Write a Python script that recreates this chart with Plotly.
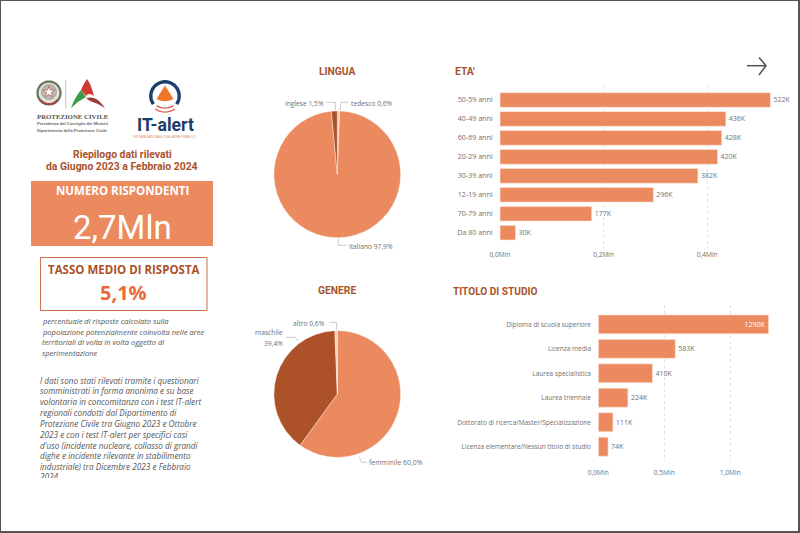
import numpy as np
import plotly.graph_objects as go

W, H = 800, 533

# ---------- data ----------
lingua_labels = ["tedesco", "italiano", "inglese"]
lingua_values = [0.6, 97.9, 1.5]
genere_labels = ["femminile", "maschile", "altro"]
genere_values = [60.0, 39.4, 0.6]
eta_labels = ["50-59 anni", "40-49 anni", "60-69 anni", "20-29 anni",
              "30-39 anni", "12-19 anni", "70-79 anni", "Da 80 anni"]
eta_values = [522, 436, 428, 420, 382, 296, 177, 30]
eta_ticks = [0, 200, 400]
eta_ticktext = ["0,0Mln", "0,2Mln", "0,4Mln"]
studio_labels = ["Diploma di scuola superiore", "Licenza media", "Laurea specialistica",
                 "Laurea triennale", "Dottorato di ricerca/Master/Specializzazione",
                 "Licenza elementare/Nessun titolo di studio"]
studio_values = [1290, 583, 410, 224, 111, 74]
studio_ticks = [0, 500, 1000]
studio_ticktext = ["0,0Mln", "0,5Mln", "1,0Mln"]

# ---------- styling ----------
ORANGE = "#EB8A5F"
DARK = "#AD5128"
LIGHT = "#F6CDB8"
TITLE = "#A9532B"
GREY = "#707070"
SANS = "Open Sans"
HEAD = "Roboto"


def px(x):
    return x / W


def py(y):
    return 1 - y / H


annotations = []
shapes = []
PAGE = dict(xref="x4", yref="y4")   # full-page overlay axes, measured in pixels


def note(x, y, text, size, color=GREY, anchor="left", family=SANS, bold=False, italic=False):
    annotations.append(dict(
        x=x - 1 if anchor == "left" else x, y=y, text=text, showarrow=False, xanchor=anchor,
        yanchor="middle", borderpad=0,
        font=dict(family=family, size=size, color=color,
                  weight="bold" if bold else "normal",
                  style="italic" if italic else "normal"), **PAGE))


def poly(points, color=None, fill=None, width=1, close=False):
    d = "M " + " L ".join(f"{a:.3f},{b:.3f}" for a, b in points) + (" Z" if close else "")
    shapes.append(dict(type="path", path=d,
                       line=dict(color=color or "rgba(0,0,0,0)", width=width),
                       fillcolor=fill or "rgba(0,0,0,0)", **PAGE))


def curve(spec, fill):
    parts = []
    for item in spec:
        cmd, nums = item[0], item[1:]
        pairs = [f"{nums[i]},{nums[i + 1]}" for i in range(0, len(nums), 2)]
        parts.append(cmd + " " + " ".join(pairs))
    shapes.append(dict(type="path", path=" ".join(parts) + " Z",
                       line=dict(width=0), fillcolor=fill, **PAGE))


def rect(x0, y0, x1, y1, fill=None, line=None, width=1):
    shapes.append(dict(type="rect", x0=x0, x1=x1, y0=y0, y1=y1,
                       fillcolor=fill or "rgba(0,0,0,0)",
                       line=dict(color=line or "rgba(0,0,0,0)", width=width if line else 0), **PAGE))


def arc(cx, cy, r, a0, a1, n=48):
    """angles in degrees clockwise from 12 o'clock"""
    t = np.radians(np.linspace(a0, a1, n))
    return list(zip(cx + r * np.sin(t), cy - r * np.cos(t)))


def circle(cx, cy, r, fill=None, line=None, width=1):
    poly(arc(cx, cy, r, 0, 360), color=line, fill=fill, width=width, close=True)


def pct(v):
    return f"{v:.1f}%".replace(".", ",")


# ---------- frame ----------
rect(0, 0, W, 1, fill="#555555")
rect(0, 0, 1, H, fill="#555555")
rect(W - 2, 0, W, H, fill="#555555")
rect(0, H - 2, W, H, fill="#555555")

# ---------- logos ----------
circle(49, 93, 11.5, fill="#E4E4DC", line="#66735A", width=2.2)
circle(49, 92, 7.5, fill="#B9B9B0", line="#8E8E82", width=0.6)
star = [(49 + (6 if i % 2 == 0 else 2.4) * np.sin(np.pi * i / 5),
         92 - (6 if i % 2 == 0 else 2.4) * np.cos(np.pi * i / 5)) for i in range(10)]
poly(star, color="#B33A3A", fill="#FFFFFF", width=0.6, close=True)
poly(arc(49, 93, 11, 130, 230, n=12), color="#A8453F", width=2)
poly([(65.7, 80), (65.7, 109)], color="#C4C4C4", width=1)
curve([("M", 71, 108), ("Q", 75, 97, 81, 90), ("L", 86, 97), ("Q", 78, 101, 71, 108)], "#3C9A48")
curve([("M", 81, 90), ("Q", 84, 83, 87, 79), ("Q", 91, 84, 94, 96), ("Q", 89, 92, 86, 96)], "#CE3A31")
curve([("M", 86, 98), ("Q", 94, 96, 99, 101), ("Q", 103, 105, 105, 108), ("Q", 97, 103, 90, 101)], "#A03A3A")
note(37, 116, "PROTEZIONE CIVILE", 6.8, "#555555", family="Liberation Serif", bold=True)
note(37, 123.5, "Presidenza del Consiglio dei Ministri", 4.1, "#666666", family="Liberation Sans", bold=True)
note(37, 130, "Dipartimento della Protezione Civile", 4.1, "#666666", family="Liberation Sans", bold=True)

poly(arc(165, 96, 14.2, -125, 125), color="#1F3F6E", width=3.4)
curve([("M", 165, 85.5), ("L", 173.5, 99), ("Q", 165, 103.5, 156.5, 99)], "#F0762B")
poly(arc(165, 91, 17, 150, 210, n=14), color="#D9473A", width=1.2)
poly(arc(165, 95, 17, 145, 215, n=14), color="#D9473A", width=1.2)
note(165, 125, "IT-alert", 17.6, "#1E3C68", anchor="center", family="Roboto", bold=True)
note(165, 136.5, "SISTEMA NAZIONALE DI ALLARME PUBBLICO", 2.9, "#D98A62", anchor="center",
     family="Liberation Sans")

# ---------- left column ----------
note(122, 154.5, "Riepilogo dati rilevati", 10.4, TITLE, anchor="center", family=HEAD, bold=True)
note(122, 166, "da Giugno 2023 a Febbraio 2024", 10.4, TITLE, anchor="center", family=HEAD, bold=True)
rect(31, 181, 213, 246, fill=ORANGE)
note(122, 190, "NUMERO RISPONDENTI", 11.5, "#FFFFFF", anchor="center", bold=True)
note(122, 227, "2,7Mln", 33, "#FFFFFF", anchor="center", family=HEAD)
rect(40.5, 257.5, 207, 310.5, line="#C8704A", width=1)
note(123.5, 269, "TASSO MEDIO DI RISPOSTA", 11.5, DARK, anchor="center", bold=True)
note(123.5, 292, "5,1%", 20, "#E8693A", anchor="center", bold=True)

note_lines = ["percentuale di risposte calcolato sulla",
              "popolazione potenzialmente coinvolta nelle aree",
              "territoriali di volta in volta oggetto di",
              "sperimentazione"]
for i, line in enumerate(note_lines):
    note(42, 320.7 + i * 10.8, line, 7.55, "#555555", italic=True)

body_lines = ["I dati sono stati rilevati tramite i questionari",
              "somministrati in forma anonima e su base",
              "volontaria in concomitanza con i test IT-alert",
              "regionali condotti dal Dipartimento di",
              "Protezione Civile tra Giugno 2023 e Ottobre",
              "2023 e con i test IT-alert per specifici casi",
              "d'uso (incidente nucleare, collasso di grandi",
              "dighe e incidente rilevante in stabilimento",
              "industriale) tra Dicembre 2023 e Febbraio"]
for i, line in enumerate(body_lines):
    note(40, 380 + i * 10.85, line, 8.2, "#555555", italic=True)

# ---------- section titles ----------
note(337, 71.7, "LINGUA", 10.3, TITLE, anchor="center", family=HEAD, bold=True)
note(337, 290.7, "GENERE", 10.3, TITLE, anchor="center", family=HEAD, bold=True)
note(455, 71.7, "ETA'", 10.3, TITLE, family=HEAD, bold=True)
note(453, 291, "TITOLO DI STUDIO", 10.1, TITLE, family=HEAD, bold=True)

# ---------- arrow ----------
poly([(747, 65.7), (766, 65.7)], color="#505050", width=1.5)
poly([(759, 57.5), (766, 65.7), (759, 75)], color="#505050", width=1.5)

# ---------- pie labels and leaders ----------
LEAD = "#BDBDBD"
LBL = 6.7
note(325, 103.3, f"{lingua_labels[2]} {pct(lingua_values[2])}", LBL, GREY, anchor="right")
poly([(326.7, 102.3), (335.3, 102.3), (335.3, 110)], color=LEAD, width=0.8)
note(350.7, 103.3, f"{lingua_labels[0]} {pct(lingua_values[0])}", LBL, GREY)
poly([(348, 102.3), (341, 102.3), (340, 110)], color=LEAD, width=0.8)
note(349.3, 246, f"{lingua_labels[1]} {pct(lingua_values[1])}", LBL, GREY)
poly([(338.3, 238.3), (338.3, 245.3), (346.7, 245.3)], color=LEAD, width=0.8)

note(325.7, 323.3, f"{genere_labels[2]} {pct(genere_values[2])}", LBL, GREY, anchor="right")
poly([(329, 322.3), (336.7, 322.3), (336.7, 330)], color=LEAD, width=0.8)
note(283.7, 332.7, genere_labels[1], LBL, GREY, anchor="right")
note(283.7, 343.3, pct(genere_values[1]), LBL, GREY, anchor="right")
poly([(286, 337.3), (295, 337.3), (298.3, 341)], color=LEAD, width=0.8)
note(369.3, 462.7, f"{genere_labels[0]} {pct(genere_values[0])}", 6.9, GREY)
poly([(359, 456.7), (361.7, 462.3), (367.3, 462.3)], color=LEAD, width=0.8)

# ---------- traces ----------
fig = go.Figure()


def pie_domain(cx, cy, r):
    return dict(x=[px(cx - r), px(cx + r)], y=[py(cy + r), py(cy - r)])


fig.add_trace(go.Pie(labels=lingua_labels, values=lingua_values, sort=False, direction="clockwise",
                     rotation=0, textinfo="none", showlegend=False, hoverinfo="label+percent",
                     domain=pie_domain(337.3, 174.3, 63.4),
                     marker=dict(colors=[LIGHT, ORANGE, DARK], line=dict(color="#FFFFFF", width=0.4))))
fig.add_trace(go.Pie(labels=genere_labels, values=genere_values, sort=False, direction="clockwise",
                     rotation=0, textinfo="none", showlegend=False, hoverinfo="label+percent",
                     domain=pie_domain(337.3, 394, 63.4),
                     marker=dict(colors=[ORANGE, DARK, LIGHT], line=dict(color="#FFFFFF", width=0.4))))

fig.add_trace(go.Bar(y=eta_labels, x=eta_values, orientation="h", marker_color=ORANGE,
                     marker_line=dict(color="#FBE3D8", width=0.6),
                     text=[f"{v}K" for v in eta_values], textposition="outside", cliponaxis=False,
                     textangle=0, constraintext="none",
                     outsidetextfont=dict(family=SANS, size=7, color="#6A7480"),
                     showlegend=False, xaxis="x", yaxis="y"))
fig.add_trace(go.Bar(y=studio_labels, x=studio_values, orientation="h", marker_color=ORANGE,
                     marker_line=dict(color="#FBE3D8", width=0.6),
                     text=[f"{v}K" for v in studio_values],
                     textposition=["inside"] + ["outside"] * (len(studio_values) - 1),
                     insidetextanchor="end", cliponaxis=False, textangle=0, constraintext="none",
                     insidetextfont=dict(family=SANS, size=7, color="#FFFFFF"),
                     outsidetextfont=dict(family=SANS, size=7, color=GREY),
                     showlegend=False, xaxis="x2", yaxis="y2"))
# last line of the body text, cut off by its text box as in the original
fig.add_trace(go.Scatter(x=[40], y=[477.6], mode="text", text=["2024"], textposition="middle right",
                         textfont=dict(family=SANS, size=8.2, color="#555555", style="italic"),
                         showlegend=False, hoverinfo="skip", xaxis="x3", yaxis="y3"))
# empty trace that keeps the full-page overlay axes alive
fig.add_trace(go.Scatter(x=[None], y=[None], mode="markers", showlegend=False, hoverinfo="skip",
                         xaxis="x4", yaxis="y4"))


def x_axis(domain, rng, vals, texts, anchor, ticklen):
    return dict(domain=[px(domain[0]), px(domain[1])], range=rng, tickmode="array", tickvals=vals,
                ticktext=texts, showgrid=True, gridcolor="#E2E2E2", griddash="dot", gridwidth=1,
                zeroline=False, showline=False, ticks="outside", ticklen=ticklen, tickcolor="rgba(0,0,0,0)",
                tickfont=dict(family=SANS, size=6.6, color=GREY), anchor=anchor, fixedrange=True,
                automargin=False)


def y_axis(top, bottom, rng, anchor, size):
    return dict(domain=[py(bottom), py(top)], range=rng, type="category", showgrid=False, zeroline=False,
                showline=False, ticks="outside", ticklen=5, tickcolor="rgba(0,0,0,0)",
                tickfont=dict(family=SANS, size=size, color=GREY), anchor=anchor, fixedrange=True,
                automargin=False)


eta_scale = 0.2 * 1e3 / 103.6   # thousands per pixel
studio_scale = 500 / 66.0
fig.update_layout(
    width=W, height=H, margin=dict(l=0, r=0, t=0, b=0, pad=0, autoexpand=False), autosize=False,
    paper_bgcolor="#FFFFFF", plot_bgcolor="rgba(0,0,0,0)", bargap=0.23, showlegend=False,
    xaxis=x_axis((500, 780), [0, 280 * eta_scale], eta_ticks, eta_ticktext, "y", 0),
    yaxis=y_axis(85, 248, [7.806, -0.79], "x", 7.1),
    xaxis2=x_axis((598.3, 780), [0, 181.7 * studio_scale], studio_ticks, studio_ticktext, "y2", 4),
    yaxis2=y_axis(305, 462, [5.625, -0.79], "x2", 6.5),
    xaxis3=dict(domain=[px(38), px(200)], range=[38, 200], visible=False, anchor="y3", fixedrange=True),
    yaxis3=dict(domain=[py(478), py(470)], range=[478, 470], visible=False, anchor="x3", fixedrange=True),
    xaxis4=dict(domain=[0, 1], range=[0, W], visible=False, anchor="y4", fixedrange=True),
    yaxis4=dict(domain=[0, 1], range=[H, 0], visible=False, anchor="x4", fixedrange=True),
    annotations=annotations, shapes=shapes,
)

fig.write_html("out.html", config=dict(displayModeBar=False),
               post_script="document.body.style.margin='0';document.body.style.overflow='hidden';")
